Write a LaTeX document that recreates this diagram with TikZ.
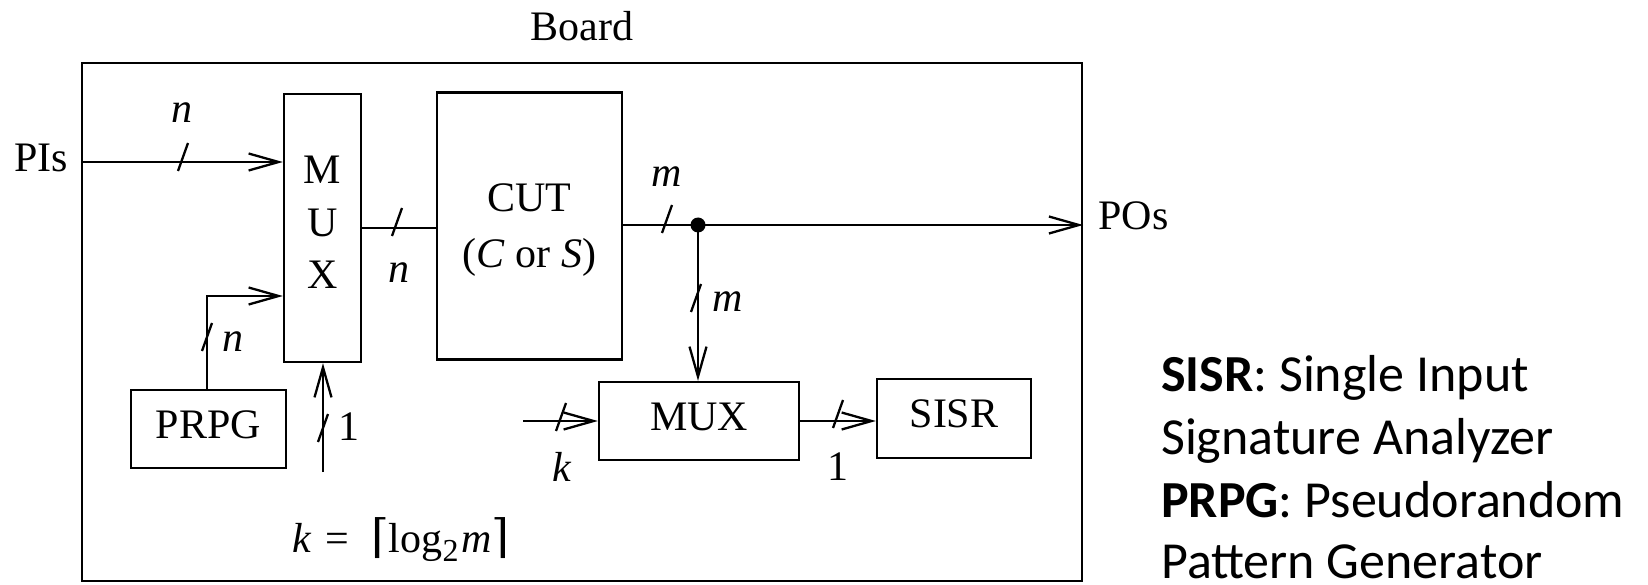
\documentclass[tikz,border=0pt]{standalone}
\usepackage{fontspec}
\setmainfont{Liberation Serif}
\newfontfamily\legendfont{Carlito}
\newfontfamily\ceilfont{DejaVu Serif}
\usetikzlibrary{arrows.meta,calc}
\newcommand\busmark[1]{\draw[wire] ($(#1)+(-5,14)$) -- ($(#1)+(5,-14)$);}
\begin{document}
\begin{tikzpicture}[x=1pt,y=-1pt,
  wire/.style={line width=2.3pt},
  arr/.style={wire,-{Straight Barb[length=30pt,width=17pt,line width=2.3pt]}},
  blk/.style={draw,line width=2.3pt,inner sep=0pt,text depth=9pt,font=\fontsize{42}{50}\selectfont},
  lbl/.style={inner sep=0pt,font=\fontsize{42}{50}\selectfont\itshape},
  txt/.style={inner sep=0pt,font=\fontsize{42}{50}\selectfont},
  leg/.style={inner sep=0pt,anchor=base west,font=\legendfont\fontsize{52}{62}\selectfont},
  ]
\useasboundingbox (0,0) rectangle (1648,585);

% board frame
\node[draw,line width=2.3pt,inner sep=0pt,minimum width=1000pt,minimum height=518pt] (board) at (582,322) {};
\node[txt] (boardlbl) at (582,26) {Board};

% blocks
\node[blk,minimum width=77pt,minimum height=268pt,align=center,text depth=11pt,font=\fontsize{42}{52.5}\selectfont] (mux1) at (322.5,228) {M\\U\\X};
\node[blk,minimum width=185pt,minimum height=267pt,align=center,text depth=0pt,font=\fontsize{42}{56}\selectfont] (cut) at (529.5,226) {CUT\\(\textit{C} or \textit{S})};
\node[blk,minimum width=155pt,minimum height=78pt] (prpg) at (208.5,429) {PRPG};
\node[blk,minimum width=200pt,minimum height=78pt] (mux2) at (699,421) {MUX};
\node[blk,minimum width=154pt,minimum height=79pt] (sisr) at (954,418.5) {SISR};

% outside texts
\node[txt] (pis) at (41,158) {PIs};
\node[txt] (pos) at (1133.5,216) {POs};

% coordinates
\coordinate (piin) at (82,162);
\coordinate (dot) at (698,225);
\coordinate (pbend) at (207,296);
\coordinate (onein) at (323,472);
\coordinate (kin) at (523,421);

% connectors
\draw[arr] (piin) -- (piin -| mux1.west);
\draw[wire] (mux1.east) -- (mux1.east -| cut.west);
\draw[arr] (cut.east |- dot) -- (dot -| board.east);
\fill (dot) circle (7.5pt);
\draw[arr] (dot) -- (dot |- mux2.north);
\draw[arr] (prpg.north -| pbend) -- (pbend) -- (pbend -| mux1.west);
\draw[arr] (onein) -- (onein |- mux1.south);
\draw[arr] (kin) -- (kin -| mux2.west);
\draw[arr] (mux2.east) -- (mux2.east -| sisr.west);

% bus marks
\coordinate (s1) at (183,157);
\coordinate (s2) at (397,222);
\coordinate (s3) at (667,219);
\coordinate (s4) at (696,298);
\coordinate (s5) at (207,337);
\coordinate (s6) at (323,428);
\coordinate (s7) at (561,417);
\coordinate (s8) at (838,414);
\busmark{s1}\busmark{s2}\busmark{s3}\busmark{s4}
\busmark{s5}\busmark{s6}\busmark{s7}\busmark{s8}

% bus labels
\node[lbl] (n1) at (182,113) {n};
\node[lbl] (n2) at (399,273) {n};
\node[lbl] (m1) at (667,177) {m};
\node[lbl] (m2) at (728,302) {m};
\node[lbl] (n3) at (233,342) {n};
\node[txt] (one1) at (349,427) {1};
\node[lbl] (k1) at (562,467) {k};
\node[txt] (one2) at (838,467) {1};

% formula
\node[txt] (formula) at (401,540) {\textit{k}\hspace{14pt}=\hspace{22pt}{\ceilfont\fontsize{46}{50}\selectfont ⌈}log\raisebox{-9pt}{\fontsize{32}{32}\selectfont 2}\hspace{3pt}\textit{m}{\ceilfont\fontsize{46}{50}\selectfont ⌉}};

% legend
\node[leg] (leg1) at (1161,391) {\textbf{SISR}: Single Input};
\node[leg] (leg2) at (1161,454) {Signature Analyzer};
\node[leg] (leg3) at (1161,517) {\textbf{PRPG}: Pseudorandom};
\node[leg] (leg4) at (1161,578) {Pattern Generator};
\end{tikzpicture}
\end{document}
